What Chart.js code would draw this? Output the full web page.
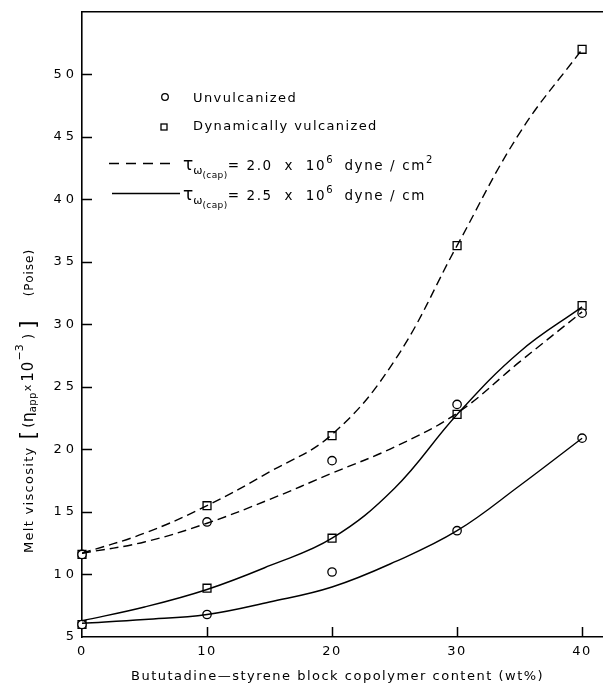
<!DOCTYPE html>
<html><head><meta charset="utf-8">
<script src="https://cdn.jsdelivr.net/npm/chart.js@4.4.0/dist/chart.umd.min.js"></script>
<style>html,body{margin:0;padding:0;background:#fff}#wrap{width:609px;height:692px;position:relative}</style>
</head><body><div id="wrap"><canvas id="c"></canvas></div>
<script>
// ---- data ----
const contentX = [0, 10, 20, 30, 40];
const unvulcDashedPts = [11.6, 14.2, 19.1, 23.6, 30.9];
const vulcDashedPts   = [11.6, 15.5, 21.1, 36.3, 52.0];
const unvulcSolidPts  = [6.0, 6.8, 10.2, 13.5, 20.9];
const vulcSolidPts    = [6.0, 8.9, 12.9, 22.8, 31.5];

// fitted curves as drawn in the figure (read at every 5 wt%)
const curveX            = [0, 5, 10, 15, 20, 25, 30, 35, 40];
const vulcDashedCurve   = [11.7, 13.3, 15.5, 18.2, 21.2, 27.1, 36.3, 45.3, 52.0];
const unvulcDashedCurve = [11.7, 12.6, 14.1, 16.0, 18.1, 20.2, 22.9, 27.0, 31.0];
const vulcSolidCurve    = [6.3, 7.4, 8.8, 10.7, 12.9, 16.9, 22.8, 27.8, 31.4];
const unvulcSolidCurve  = [6.1, 6.4, 6.8, 7.8, 9.0, 11.0, 13.5, 17.1, 20.9];

const xTickValues = [0, 10, 20, 30, 40];
const yTickValues = [5, 10, 15, 20, 25, 30, 35, 40, 45, 50];

const xTitle = 'Bututadine\u2014styrene block copolymer content (wt%)';
const legendUnvulc = 'Unvulcanized';
const legendVulc = 'Dynamically vulcanized';

// ---- helpers ----
const FONT = '"DejaVu Sans"';
const pts = (xs, ys) => xs.map((x, i) => ({x, y: ys[i]}));

function drawRich(ctx, x, y, segs, rotate) {
  ctx.save();
  ctx.translate(x, y);
  if (rotate) ctx.rotate(-Math.PI / 2);
  ctx.textBaseline = 'alphabetic';
  ctx.textAlign = 'left';
  ctx.fillStyle = '#000';
  let cx = 0;
  for (const s of segs) {
    if (s.gap) { cx += s.gap; continue; }
    ctx.font = (s.size || 13) + 'px ' + FONT;
    ctx.letterSpacing = (s.sp != null ? s.sp : 1) + 'px';
    ctx.fillText(s.t, cx, s.dy || 0);
    cx += ctx.measureText(s.t).width;
  }
  ctx.restore();
}

const decorPlugin = {
  id: 'decor',
  afterUpdate(chart) {
    const wrap = (s, sp) => {
      if (s._wrapped) return;
      const orig = s.drawLabels.bind(s);
      s.drawLabels = function (ca) {
        const c = chart.ctx; c.save(); c.letterSpacing = sp; orig(ca); c.restore();
      };
      s._wrapped = true;
    };
    wrap(chart.scales.y, '4px');
    wrap(chart.scales.x, '1.5px');
  },
  beforeDatasetsDraw(chart) {
    const ctx = chart.ctx, xs = chart.scales.x, ys = chart.scales.y, a = chart.chartArea;
    ctx.save();
    ctx.strokeStyle = '#000';
    ctx.lineWidth = 1.5;
    ctx.beginPath();
    yTickValues.forEach(v => {
      if (v === ys.min) return;
      const py = Math.round(ys.getPixelForValue(v)) + 0.5;
      ctx.moveTo(a.left, py); ctx.lineTo(a.left + 10, py);
    });
    xTickValues.forEach(v => {
      if (v === xs.min) return;
      const px = Math.round(xs.getPixelForValue(v)) + 0.5;
      ctx.moveTo(px, a.bottom); ctx.lineTo(px, a.bottom - 10);
    });
    ctx.stroke();
    ctx.restore();
  },
  afterDraw(chart) {
    const ctx = chart.ctx;
    ctx.save();
    // x axis title
    ctx.font = '13px ' + FONT;
    ctx.letterSpacing = '1.5px';
    ctx.fillStyle = '#000';
    ctx.textBaseline = 'alphabetic';
    ctx.textAlign = 'left';
    ctx.fillText(xTitle, 131, 680);

    // y axis title (rotated, with sub/superscripts)
    drawRich(ctx, 33, 553, [
      {t: 'Melt viscosity', size: 13, sp: 1.3},
      {gap: 7},
      {t: '[', size: 22, dy: 2, sp: 0},
      {gap: 3},
      {t: '(', size: 14, sp: 0},
      {t: '\u03b7', size: 16, sp: 0},
      {t: 'app', size: 10, dy: 3, sp: 0.4},
      {gap: 1},
      {t: 'x', size: 11, dy: -2, sp: 0},
      {gap: 3},
      {t: '10', size: 15, sp: 1},
      {t: '\u22123', size: 11, dy: -10, sp: 0},
      {gap: 5},
      {t: ')', size: 14, sp: 0},
      {gap: 5},
      {t: ']', size: 22, dy: 2, sp: 0},
      {gap: 24},
      {t: '(Poise)', size: 12, dy: 0, sp: 1}
    ], true);

    // legend: markers
    ctx.letterSpacing = '0px';
    ctx.lineWidth = 1.3;
    ctx.strokeStyle = '#000';
    ctx.beginPath(); ctx.arc(165, 97, 3.3, 0, Math.PI * 2); ctx.stroke();
    ctx.strokeRect(161, 124, 6, 6);
    ctx.font = '13px ' + FONT;
    ctx.letterSpacing = '1.4px';
    ctx.fillText(legendUnvulc, 193, 101.5);
    ctx.fillText(legendVulc, 193, 129.5);

    // legend: line styles
    ctx.letterSpacing = '0px';
    ctx.lineWidth = 1.3;
    ctx.setLineDash([10, 7]);
    ctx.beginPath(); ctx.moveTo(109, 163.5); ctx.lineTo(177, 163.5); ctx.stroke();
    ctx.setLineDash([]);
    ctx.beginPath(); ctx.moveTo(112, 193.5); ctx.lineTo(180, 193.5); ctx.stroke();
    ctx.restore();

    drawRich(ctx, 183, 170, [
      {t: '\u03c4', size: 17, sp: 0},
      {t: '\u03c9', size: 11, dy: 4, sp: 0},
      {t: '(cap)', size: 9, dy: 8, sp: 0.4},
      {t: '= 2.0  x  10', size: 13.5, sp: 1.6},
      {t: '6', size: 10, dy: -7, sp: 0},
      {t: '  dyne / cm', size: 13.5, sp: 1.6},
      {t: '2', size: 10, dy: -7, sp: 0}
    ], false);
    drawRich(ctx, 183, 200, [
      {t: '\u03c4', size: 17, sp: 0},
      {t: '\u03c9', size: 11, dy: 4, sp: 0},
      {t: '(cap)', size: 9, dy: 8, sp: 0.4},
      {t: '= 2.5  x  10', size: 13.5, sp: 1.6},
      {t: '6', size: 10, dy: -7, sp: 0},
      {t: '  dyne / cm', size: 13.5, sp: 1.6}
    ], false);
  }
};

const curveDs = (ys, dashed) => ({
  data: pts(curveX, ys), showLine: true, pointRadius: 0, pointHoverRadius: 0,
  borderColor: '#000', borderWidth: 1.4, borderDash: dashed ? [9, 5] : [],
  tension: 0.4, fill: false
});
const markDs = (ys, style) => ({
  data: pts(contentX, ys), showLine: false, pointStyle: style,
  pointRadius: style === 'rect' ? 5.6 : 4.2, pointBorderWidth: 1.3,
  pointBorderColor: '#000', pointBackgroundColor: '#fff', clip: false
});

new Chart(document.getElementById('c'), {
  type: 'scatter',
  data: {
    datasets: [
      curveDs(vulcDashedCurve, true),
      curveDs(unvulcDashedCurve, true),
      curveDs(vulcSolidCurve, false),
      curveDs(unvulcSolidCurve, false),
      markDs(unvulcDashedPts, 'circle'),
      markDs(vulcDashedPts, 'rect'),
      markDs(unvulcSolidPts, 'circle'),
      markDs(vulcSolidPts, 'rect')
    ]
  },
  options: {
    responsive: true, maintainAspectRatio: false, animation: false,
    layout: {padding: {left: 0, right: 3, top: 0, bottom: 0}},
    plugins: {legend: {display: false}, tooltip: {enabled: false}},
    scales: {
      x: {
        type: 'linear', position: 'bottom', min: 0, max: 41.6,
        afterBuildTicks: s => { s.ticks = xTickValues.map(v => ({value: v})); },
        afterFit: s => { s.height = 55; },
        grid: {display: false, drawTicks: false},
        border: {display: true, color: '#000', width: 1.6},
        ticks: {color: '#000', font: {family: 'DejaVu Sans', size: 13}, padding: 7, maxRotation: 0, autoSkip: false}
      },
      xTop: {
        type: 'linear', position: 'top', min: 0, max: 41.6, display: true,
        afterFit: s => { s.height = 11; },
        grid: {display: false, drawTicks: false},
        border: {display: true, color: '#000', width: 1.6},
        ticks: {display: false}
      },
      y: {
        type: 'linear', position: 'left', min: 5, max: 55,
        afterBuildTicks: s => { s.ticks = yTickValues.map(v => ({value: v})); },
        afterFit: s => { s.width = 82; },
        grid: {display: false, drawTicks: false},
        border: {display: true, color: '#000', width: 1.6},
        ticks: {color: '#000', font: {family: 'DejaVu Sans', size: 13}, padding: 4, autoSkip: false}
      }
    }
  },
  plugins: [decorPlugin]
});
</script>
</body></html>
